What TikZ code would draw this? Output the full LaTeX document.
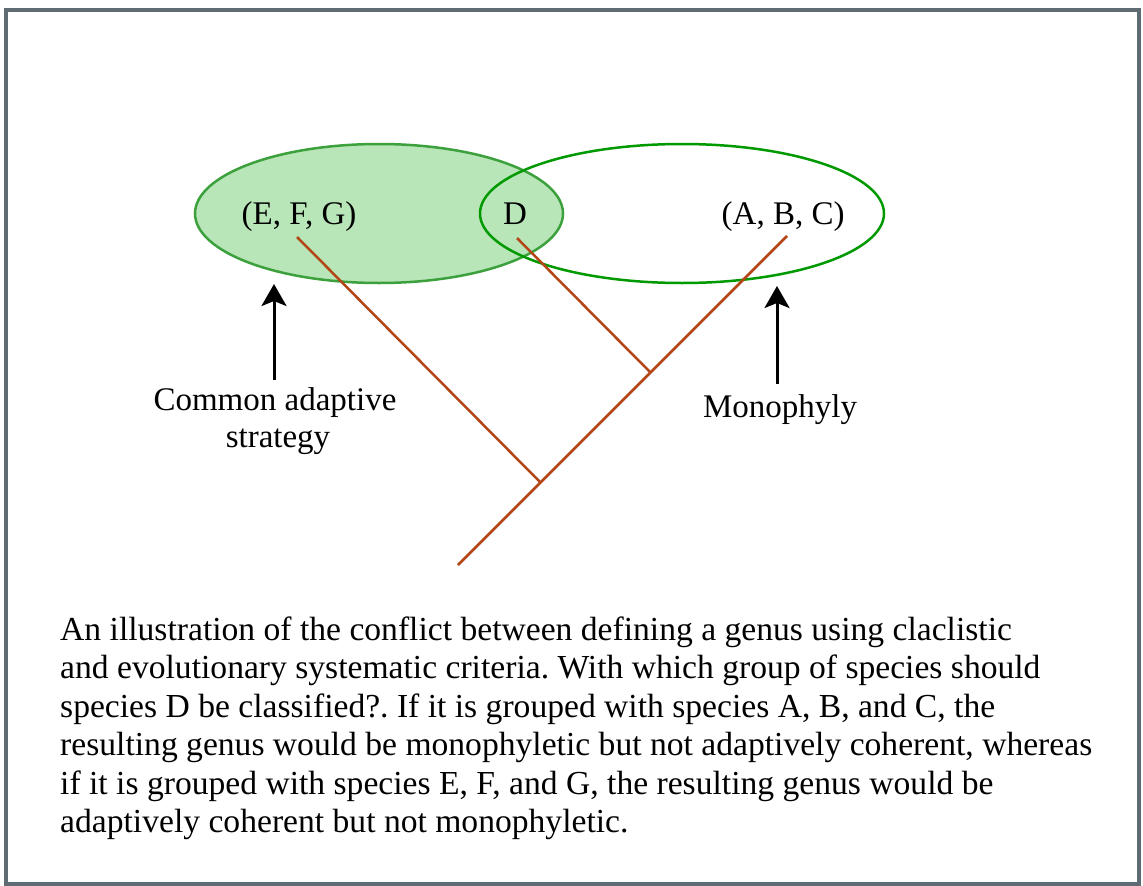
\documentclass[tikz,border=0pt]{standalone}
\usepackage{fontspec}
\setmainfont{Liberation Serif}
\usetikzlibrary{arrows.meta}
\frenchspacing
\definecolor{framegray}{RGB}{95,107,115}
\definecolor{fillgreen}{RGB}{184,230,184}
\definecolor{edgegreen}{RGB}{60,160,60}
\definecolor{darkgreen}{RGB}{0,153,0}
\definecolor{branch}{RGB}{179,69,22}
\tikzset{
  lbl/.style={inner sep=0pt, font=\fontsize{33}{38.5}\selectfont},
  capline/.style={inner sep=0pt, anchor=base west, font=\fontsize{33.6}{38.5}\selectfont\frenchspacing},
  branchline/.style={draw=branch, line width=2.5pt},
  uparrow/.style={draw=black, line width=3pt, -{Stealth[length=22pt,width=25pt,inset=5pt]}},
}
\begin{document}
\begin{tikzpicture}[x=1pt,y=-1pt]
\useasboundingbox (0,0) rectangle (1143,886);
\draw[framegray, line width=4pt, fill=white] (5.7,9.7) rectangle (1139,883.5);
% ellipses
\draw[edgegreen, fill=fillgreen, line width=2.5pt] (379,213.5) ellipse [x radius=184, y radius=69.5];
\draw[darkgreen, line width=2.5pt] (682,213.5) ellipse [x radius=202, y radius=69.5];
% labels
\node[lbl, anchor=base west] (efg) at (241.5,224) {(E, F, G)};
\node[lbl, anchor=base west] (d) at (503,224) {D};
\node[lbl, anchor=base west] (abc) at (721.5,224) {(A, B, C)};
% tree
\coordinate (root) at (458,565);
\coordinate (n1) at (540.5,482.5);
\coordinate (n2) at (650.5,372.5);
\coordinate (tabc) at (787,236);
\coordinate (tefg) at (297,237);
\coordinate (td) at (517,238);
\draw[branchline] (root) -- (n1) -- (n2) -- (tabc);
\draw[branchline] (tefg) -- (n1);
\draw[branchline] (td) -- (n2);
% arrows and their labels
\node[lbl, anchor=base] (cas1) at (275,410) {Common adaptive};
\node[lbl, anchor=base] (cas2) at (278,447) {strategy};
\node[lbl, anchor=base] (mono) at (780,417) {Monophyly};
\coordinate (a1top) at (274,284);
\coordinate (a1bot) at (274,380);
\coordinate (a2top) at (777,286);
\coordinate (a2bot) at (777,384);
\draw[uparrow] (a1bot) -- (a1top);
\draw[uparrow] (a2bot) -- (a2top);
% caption
\node[capline] (c1) at (60,640) {An illustration of the conflict between defining a genus using claclistic};
\node[capline] (c2) at (60,678.5) {and evolutionary systematic criteria. With which group of species should};
\node[capline] (c3) at (60,717) {species D be classified?. If it is grouped with species A, B, and C, the};
\node[capline] (c4) at (60,755.5) {resulting genus would be monophyletic but not adaptively coherent, whereas};
\node[capline] (c5) at (60,794) {if it is grouped with species E, F, and G, the resulting genus would be};
\node[capline] (c6) at (60,832.5) {adaptively coherent but not monophyletic.};
\end{tikzpicture}
\end{document}
